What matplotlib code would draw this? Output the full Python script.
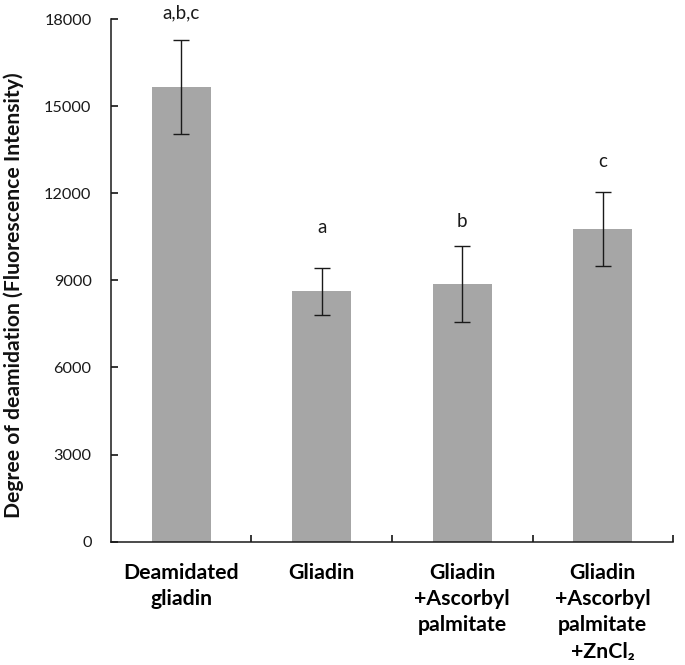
import matplotlib.pyplot as plt
import numpy as np

plt.rcParams["font.family"] = ["Lato", "DejaVu Sans"]

categories = [
    "Deamidated\ngliadin",
    "Gliadin",
    "Gliadin\n+Ascorbyl\npalmitate",
    "Gliadin\n+Ascorbyl\npalmitate\n+ZnCl\u2082",
]
means = [15650, 8620, 8880, 10770]
errors = [1615, 805, 1305, 1265]
letters = ["a,b,c", "a", "b", "c"]
letter_y = [18030, 10620, 10840, 12900]

yticks = [0, 3000, 6000, 9000, 12000, 15000, 18000]

fig = plt.figure(figsize=(6.85, 6.65), dpi=100)
ax = fig.add_axes([0.162, 0.1854, 0.8205, 0.786])

x = np.arange(1, len(categories) + 1)
ax.bar(x, means, width=0.42, color="#a6a6a6", zorder=2)
ax.errorbar(x, means, yerr=errors, fmt="none", ecolor="#1a1a1a",
            elinewidth=1.0, capsize=6, capthick=1.0, zorder=3)

for xi, lab, ly in zip(x, letters, letter_y):
    ax.text(xi, ly, lab, ha="center", va="baseline", fontsize=13.5,
            color="#1a1a1a", clip_on=False)

ax.set_xlim(0.5, len(categories) + 0.5)
ax.set_ylim(0, 18000)
ax.set_yticks(yticks)
ax.set_yticklabels([str(v) for v in yticks])

# boundary ticks without labels, labels at category centres
ax.set_xticks(np.arange(1.5, len(categories) + 1, 1.0))
ax.set_xticklabels([])
ax.set_xticks(x, minor=True)
ax.set_xticklabels(categories, minor=True, fontsize=15.3, fontweight="bold",
                   linespacing=1.4, va="top")
ax.tick_params(axis="x", which="major", direction="in", length=5, width=1.1)
ax.tick_params(axis="x", which="minor", length=0, pad=15)
ax.tick_params(axis="y", direction="in", length=5, width=1.1, pad=14,
               labelsize=11.7, labelcolor="#1a1a1a")

for side in ("top", "right"):
    ax.spines[side].set_visible(False)
for side in ("left", "bottom"):
    ax.spines[side].set_linewidth(1.1)
    ax.spines[side].set_color("#1a1a1a")

fig.text(0.02, 1 - 295 / 665, "Degree of deamidation (Fluorescence Intensity)",
         rotation=90, ha="center", va="center", fontsize=15.2,
         fontweight="bold", color="#111111")

fig.savefig("out.png", dpi=100)
